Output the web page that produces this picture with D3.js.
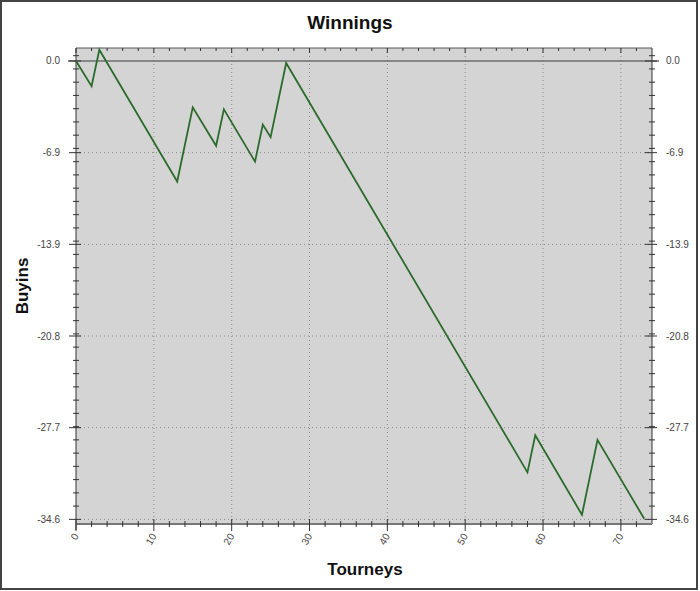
<!DOCTYPE html>
<html>
<head>
<meta charset="utf-8">
<script src="https://cdn.jsdelivr.net/npm/d3@7"></script>
<style>
	body { margin: 0; background: #fff; }
	text { font-family: "Liberation Sans", Arial, sans-serif; }
</style>
</head>
<body>
<div id="container"></div>
<script>
// turning points of the cumulative winnings line
const tourneys = [0, 2, 3, 13, 15, 18, 19, 23, 24, 25, 27, 58, 59, 65, 67, 73];
const buyins = [0, -1.9, 0.85, -9.1, -3.5, -6.4, -3.65, -7.6, -4.8, -5.75, -0.15, -31.05, -28.25, -34.25, -28.6, -34.55];

const xTicks = [0, 10, 20, 30, 40, 50, 60, 70];
const yTickValues = [0, -6.92, -13.84, -20.76, -27.68, -34.6];
const yTickLabels = ["0.0", "-6.9", "-13.9", "-20.8", "-27.7", "-34.6"];

const width = 700;
const height = 591;
const plot = { left: 76, right: 652, top: 48, bottom: 524 };

const svg = d3
	.select("#container")
	.append("svg")
	.attr("width", width)
	.attr("height", height);

svg.append("rect")
	.attr("x", 1).attr("y", 1)
	.attr("width", width - 4).attr("height", height - 3)
	.attr("fill", "#fff")
	.attr("stroke", "#444")
	.attr("stroke-width", 2);

const x = d3.scaleLinear().domain([0, 74]).range([plot.left, plot.right]);
const y = d3.scaleLinear().domain([-34.95, 0.98]).range([plot.bottom, plot.top]);

// plot background
svg.append("rect")
	.attr("x", plot.left).attr("y", plot.top)
	.attr("width", plot.right - plot.left)
	.attr("height", plot.bottom - plot.top)
	.attr("fill", "#d4d4d4");

// grid
const grid = svg.append("g").attr("stroke", "#8a8a8a").attr("stroke-dasharray", "1,3");
grid.selectAll(".vg")
	.data(xTicks.filter((d) => d > 0))
	.enter()
	.append("line")
	.attr("x1", (d) => x(d)).attr("x2", (d) => x(d))
	.attr("y1", plot.top).attr("y2", plot.bottom);
grid.selectAll(".hg")
	.data(yTickValues.filter((d) => d < 0))
	.enter()
	.append("line")
	.attr("x1", plot.left).attr("x2", plot.right)
	.attr("y1", (d) => y(d)).attr("y2", (d) => y(d));

// zero line
svg.append("line")
	.attr("x1", plot.left - 8).attr("x2", plot.right + 7)
	.attr("y1", y(0)).attr("y2", y(0))
	.attr("stroke", "#6e6e6e")
	.attr("stroke-width", 1.5);

// frame
svg.append("line")
	.attr("x1", plot.left).attr("x2", plot.right)
	.attr("y1", plot.top).attr("y2", plot.top)
	.attr("stroke", "#555");
svg.append("line")
	.attr("x1", plot.right).attr("x2", plot.right)
	.attr("y1", plot.top).attr("y2", plot.bottom)
	.attr("stroke", "#333");
svg.append("line")
	.attr("x1", plot.left).attr("x2", plot.left)
	.attr("y1", plot.top).attr("y2", plot.bottom + 6)
	.attr("stroke", "#333");
svg.append("line")
	.attr("x1", plot.left).attr("x2", plot.right)
	.attr("y1", plot.bottom).attr("y2", plot.bottom)
	.attr("stroke", "#777")
	.attr("stroke-width", 2);

// minor ticks
const xMinor = d3.range(0, 74, 2).filter((d) => d % 10 !== 0);
const yMinor = d3.range(0, 36).map((k) => 0.4 - k).filter((d) => d > -34.5);

const ticks = svg.append("g").attr("stroke", "#333");
ticks.selectAll(".xb")
	.data(xMinor)
	.enter()
	.append("line")
	.attr("x1", (d) => x(d)).attr("x2", (d) => x(d))
	.attr("y1", plot.bottom - 3).attr("y2", plot.bottom + 3);
ticks.selectAll(".xbM")
	.data(xTicks)
	.enter()
	.append("line")
	.attr("x1", (d) => x(d)).attr("x2", (d) => x(d))
	.attr("y1", plot.bottom - 5).attr("y2", plot.bottom + 7);
ticks.selectAll(".xt")
	.data(xMinor)
	.enter()
	.append("line")
	.attr("x1", (d) => x(d)).attr("x2", (d) => x(d))
	.attr("y1", plot.top).attr("y2", plot.top + 3);
ticks.selectAll(".xtM")
	.data(xTicks)
	.enter()
	.append("line")
	.attr("x1", (d) => x(d)).attr("x2", (d) => x(d))
	.attr("y1", plot.top).attr("y2", plot.top + 5);

[plot.left, plot.right].forEach((ax) => {
	ticks.selectAll(null)
		.data(yMinor)
		.enter()
		.append("line")
		.attr("x1", ax - 3).attr("x2", ax + 3)
		.attr("y1", (d) => y(d)).attr("y2", (d) => y(d));
	ticks.selectAll(null)
		.data(yTickValues)
		.enter()
		.append("line")
		.attr("x1", ax - 7).attr("x2", ax + 5)
		.attr("y1", (d) => y(d)).attr("y2", (d) => y(d));
});

// tick labels
const labels = svg.append("g").attr("font-size", 10).attr("fill", "#444");
labels.selectAll(".yl")
	.data(yTickValues)
	.enter()
	.append("text")
	.attr("x", plot.left - 16)
	.attr("y", (d) => y(d) + 3.5)
	.attr("text-anchor", "end")
	.text((d, i) => yTickLabels[i]);
labels.selectAll(".yr")
	.data(yTickValues)
	.enter()
	.append("text")
	.attr("x", plot.right + 14)
	.attr("y", (d) => y(d) + 3.5)
	.attr("text-anchor", "start")
	.text((d, i) => yTickLabels[i]);
labels.selectAll(".xl")
	.data(xTicks)
	.enter()
	.append("text")
	.attr("transform", (d) => `translate(${x(d) + 3}, ${plot.bottom + 12}) rotate(-60)`)
	.attr("text-anchor", "end")
	.text((d) => d);

// line
const lineGenerator = d3
	.line()
	.x((d, i) => x(tourneys[i]))
	.y((d) => y(d));

svg.append("path")
	.attr("d", lineGenerator(buyins))
	.attr("fill", "none")
	.attr("stroke", "#2b6b2b")
	.attr("stroke-width", 1.8)
	.attr("stroke-linejoin", "miter");

// titles
svg.append("text")
	.attr("x", 350).attr("y", 29)
	.attr("text-anchor", "middle")
	.attr("font-size", 19)
	.attr("font-weight", "bold")
	.attr("fill", "#111")
	.text("Winnings");

svg.append("text")
	.attr("x", 365).attr("y", 575)
	.attr("text-anchor", "middle")
	.attr("font-size", 17)
	.attr("font-weight", "bold")
	.attr("fill", "#111")
	.text("Tourneys");

svg.append("text")
	.attr("transform", `translate(28, 286) rotate(-90)`)
	.attr("text-anchor", "middle")
	.attr("font-size", 17)
	.attr("font-weight", "bold")
	.attr("fill", "#111")
	.text("Buyins");
</script>
</body>
</html>
